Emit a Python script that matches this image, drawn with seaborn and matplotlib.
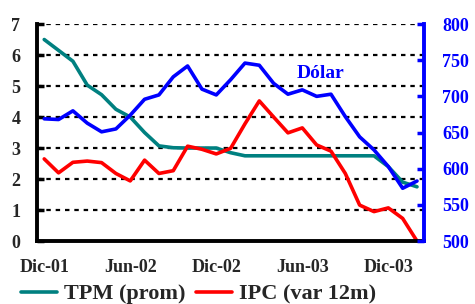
import matplotlib
matplotlib.use('Agg')
import matplotlib.pyplot as plt
import seaborn as sns
import numpy as np

# monthly data, Dic-01 .. Feb-04
months = ['Dic-01', 'Ene-02', 'Feb-02', 'Mar-02', 'Abr-02', 'May-02', 'Jun-02',
          'Jul-02', 'Ago-02', 'Sep-02', 'Oct-02', 'Nov-02', 'Dic-02', 'Ene-03',
          'Feb-03', 'Mar-03', 'Abr-03', 'May-03', 'Jun-03', 'Jul-03', 'Ago-03',
          'Sep-03', 'Oct-03', 'Nov-03', 'Dic-03', 'Ene-04', 'Feb-04']
tpm = [6.5, 6.15, 5.8, 5.03, 4.72, 4.25, 4.0, 3.5, 3.07, 3.01, 3.0, 3.0, 3.0, 2.85,
       2.75, 2.75, 2.75, 2.75, 2.75, 2.75, 2.75, 2.75, 2.75, 2.75, 2.4, 1.9, 1.75]
ipc = [2.65, 2.2, 2.54, 2.58, 2.53, 2.18, 1.94, 2.61, 2.18, 2.27, 3.06, 2.96, 2.81, 2.99,
       3.78, 4.52, 4.0, 3.49, 3.65, 3.1, 2.9, 2.18, 1.16, 0.95, 1.07, 0.73, 0.0]
dolar = [669, 668, 680, 663, 651, 655, 674, 696, 702, 727, 742, 710, 702, 723,
         746, 743, 718, 703, 709, 700, 703, 672, 644, 626, 603, 573, 583]
tick_labels = ['Dic-01', 'Jun-02', 'Dic-02', 'Jun-03', 'Dic-03']

sns.set_style('white')
plt.rcParams['font.family'] = ['Liberation Serif', 'DejaVu Serif']
plt.rcParams['font.weight'] = 'bold'

idx = np.arange(len(months))

fig = plt.figure(figsize=(4.75, 3.04), dpi=100)
ax = fig.add_axes([0.078, 0.207, 0.815, 0.714])
ax2 = ax.twinx()

sns.lineplot(x=idx, y=tpm, ax=ax, color='#008080', lw=2.6, label='TPM (prom)')
sns.lineplot(x=idx, y=ipc, ax=ax, color='#ff0000', lw=2.6, label='IPC (var 12m)')
sns.lineplot(x=idx, y=dolar, ax=ax2, color='#0000ff', lw=2.6)

ax.set_xlim(-0.5, len(months) - 0.5)
ax.set_ylim(0, 7)
ax2.set_ylim(500, 800)

# dotted grid on left scale
for v in range(1, 8):
    ax.axhline(v, color='black', lw=1.6, ls=(0, (2, 2.2)), zorder=0)

# x axis: tick marks between categories, labels centred on category
ax.set_xticks(np.arange(-0.5, len(months), 6))
ax.set_xticklabels([])
ax.set_xticks(np.arange(0, len(months), 6), minor=True)
ax.set_xticklabels(tick_labels, minor=True)
ax.tick_params(axis='x', which='major', direction='out', length=5, width=2.5, color='black')
ax.tick_params(axis='x', which='minor', length=0, pad=13, labelsize=13)

ax.set_yticks(range(0, 8))
ax.tick_params(axis='y', direction='in', length=5, width=2.5, color='black',
               pad=12, labelsize=13, left=True)

ax2.set_yticks(range(500, 801, 50))
ax2.tick_params(axis='y', direction='in', length=5, width=2.5, color='#0000ff',
                labelcolor='#0000ff', pad=13, labelsize=13, right=True)

for a in (ax, ax2):
    a.spines['top'].set_visible(False)
    a.set_xlabel('')
    a.set_ylabel('')
ax.spines['left'].set_linewidth(2.8)
ax.spines['left'].set_color('black')
ax.spines['bottom'].set_linewidth(2.8)
ax.spines['bottom'].set_color('black')
ax.spines['right'].set_visible(False)
ax2.spines['left'].set_visible(False)
ax2.spines['bottom'].set_visible(False)
ax2.spines['right'].set_linewidth(2.8)
ax2.spines['right'].set_color('#0000ff')

ax2.text(19.3, 732, 'Dólar', color='#0000ff', fontsize=14, fontweight='bold',
         ha='center', va='center')

handles, labels = ax.get_legend_handles_labels()
ax.get_legend().remove()
fig.legend(handles, labels, loc='center', bbox_to_anchor=(0.418, 1 - 294 / 304),
           ncol=2, frameon=False, fontsize=16, handlelength=1.6, handletextpad=0.3,
           columnspacing=0.5, borderpad=0)

fig.savefig('out.png', dpi=100)
